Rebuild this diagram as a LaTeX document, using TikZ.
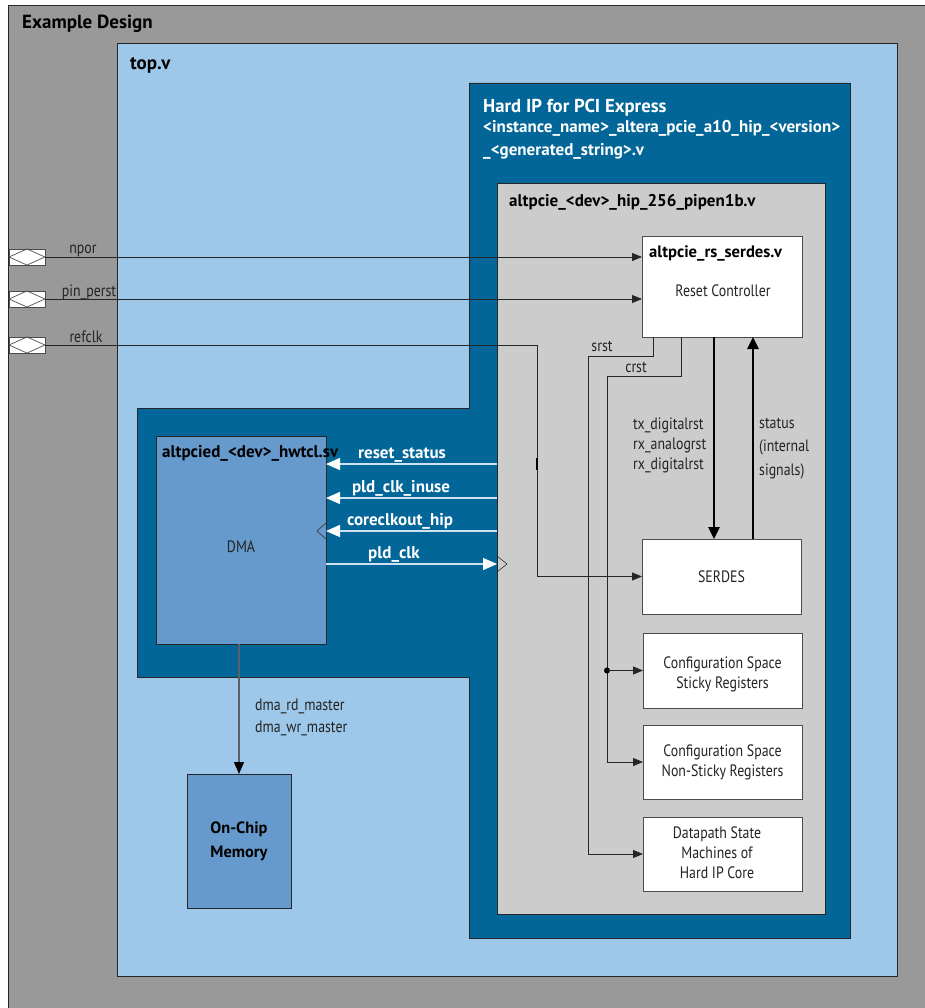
\documentclass[tikz,border=0pt]{standalone}
\usepackage{fontspec}
\setmainfont{PT Sans}
\newfontfamily\bodyfont{PT Sans}[FakeStretch=0.84]
\usepackage{tikz}
\usetikzlibrary{arrows.meta, positioning, calc}
\definecolor{designgray}{RGB}{153,153,153}
\definecolor{toplightblue}{RGB}{158,200,233}
\definecolor{hipblue}{RGB}{3,102,153}
\definecolor{coregray}{RGB}{204,204,204}
\definecolor{dmablue}{RGB}{102,153,204}
\definecolor{wiregray}{RGB}{90,96,104}
\definecolor{sigwhite}{RGB}{205,225,240}
\definecolor{textdark}{RGB}{35,35,35}

\begin{document}
\begin{tikzpicture}[
    x=1pt, y=-1pt,
    region/.style={rectangle, draw=black!85, line width=0.8pt, anchor=north west, inner sep=0pt, outer sep=0pt},
    block/.style={rectangle, draw=black!70, line width=0.9pt, fill=white, anchor=north west, inner sep=0pt, outer sep=0pt},
    portbox/.style={rectangle, draw=black!70, line width=0.7pt, fill=white, anchor=north west, minimum width=36pt, minimum height=16pt, inner sep=0pt, outer sep=0pt},
    heading/.style={anchor=base west, inner sep=0pt, font=\fontsize{19}{22}\selectfont\bfseries, text=black},
    subheading/.style={anchor=base west, inner sep=0pt, font=\fontsize{17}{20}\selectfont\bfseries, text=black},
    txt/.style={align=center, inner sep=0pt, font=\bodyfont\fontsize{16.5}{20}\selectfont, text=textdark},
    sigtxt/.style={inner sep=0pt, font=\fontsize{17}{18}\selectfont\bfseries, text=white},
    wire/.style={draw=black!85, line width=0.8pt, -{Triangle[length=10pt,width=8pt]}},
    bus/.style={draw=black, line width=2.6pt, -{Triangle[length=12pt,width=11pt]}},
    sig/.style={draw=sigwhite, line width=1.4pt, -{Triangle[length=14pt,width=12pt,color=white,fill=white]}},
    clkmark/.style={draw=black!80, line width=0.6pt}
]
\useasboundingbox (0,0) rectangle (925,1008);

% Nested design regions
\node[region, fill=designgray, minimum width=925pt, minimum height=1010pt] (exdesign) at (8,5) {};
\node[heading] at (22,29) {Example Design};
\node[region, fill=toplightblue, minimum width=780pt, minimum height=933pt] (topv) at (117,43) {};
\node[heading] at (130,70) {top.v};

% Hard IP with DMA wrapper
\draw[draw=black!85, line width=0.8pt, fill=hipblue] (469,83) -- (850,83) -- (850,938) -- (469,938)
    -- (469,677) -- (137,677) -- (137,408) -- (469,408) -- cycle;
\node[heading, text=white, font=\fontsize{18.7}{20}\selectfont\bfseries] at (483,113) {Hard IP for PCI Express};
\node[subheading, text=white] at (483,133) {<instance\_name>\_altera\_pcie\_a10\_hip\_<version>};
\node[subheading, text=white] at (483,156) {\_<generated\_string>.v};

\node[region, fill=coregray, minimum width=328pt, minimum height=731pt] (hipcore) at (497,183) {};
\node[subheading] at (509,207) {altpcie\_<dev>\_hip\_256\_pipen1b.v};

% Blocks inside the hard IP
\node[block, minimum width=160pt, minimum height=101pt] (rstctrl) at (642,236) {};
\node[subheading, font=\fontsize{16.6}{20}\selectfont\bfseries] at (649,257) {altpcie\_rs\_serdes.v};
\node[txt] at (723,291) {Reset Controller};

\node[block, minimum width=159pt, minimum height=75pt] (serdes) at (642,539) {};
\node[txt] at (serdes.center) {SERDES};

\node[block, minimum width=159pt, minimum height=75pt] (cfgsticky) at (643,633) {};
\node[txt] at ([yshift=-4pt]cfgsticky.center) {Configuration Space\\Sticky Registers};

\node[block, minimum width=159pt, minimum height=74pt] (cfgnonsticky) at (643,725) {};
\node[txt] at (cfgnonsticky.center) {Configuration Space\\Non-Sticky Registers};

\node[block, minimum width=159pt, minimum height=74pt] (datapath) at (643,817) {};
\node[txt] at (717,853) {Datapath State\\Machines of\\Hard IP Core};

% DMA and memory
\node[region, fill=dmablue, minimum width=170pt, minimum height=208pt] (dma) at (156,436) {};
\node[subheading] at (162,457) {altpcied\_<dev>\_hwtcl.sv};
\node[txt] at (241,547) {DMA};

\node[region, fill=dmablue, minimum width=104pt, minimum height=134pt] (onchipmem) at (187,774) {};
\node[txt, font=\fontsize{16.4}{24}\selectfont\bfseries, text=black] at (onchipmem.center) {On-Chip\\Memory};

% Top-level ports
\foreach \y/\nm/\txt/\lx in {249/npor/npor/83, 291/pinperst/pin\_perst/89, 337/refclk/refclk/86} {
  \node[portbox] (\nm port) at (9,\y) {};
  \draw[black!70, line width=0.7pt] (\nm port.west) -- (\nm port.north) -- (\nm port.east) -- (\nm port.south) -- cycle;
  \node[txt, anchor=base] at (\lx,\y+5) {\txt};
}
\draw[wire] (nporport.east) -- (rstctrl.west |- nporport.east);
\draw[wire] (pinperstport.east) -- (rstctrl.west |- pinperstport.east);
\draw[wire] (refclkport.east) -- ++(492,0) |- (serdes.west);
\draw[black, line width=2pt] (537,458) -- (537,470);

% Resets from the controller
\draw[wire] ([xshift=11pt]rstctrl.south west) -- ++(0,19) -| ([xshift=-55pt]datapath.west) -- (datapath.west);
\node[txt, anchor=base] at (602,351) {srst};
\draw[wire] ([xshift=39pt]rstctrl.south west) -- ++(0,39) -| ([xshift=-36pt]cfgnonsticky.west) -- (cfgnonsticky.west);
\node[txt, anchor=base] at (636,372) {crst};
\coordinate (crsttap) at ([xshift=-36pt]cfgsticky.west);
\fill[black] (crsttap) circle (3pt);
\draw[wire] (crsttap) -- (cfgsticky.west);

% Controller <-> SERDES
\draw[bus] ([xshift=-8pt]rstctrl.south) -- ([xshift=-8pt]rstctrl.south |- serdes.north);
\draw[bus] ([xshift=31pt]rstctrl.south |- serdes.north) -- ([xshift=31pt]rstctrl.south);
\node[txt, align=left, anchor=north west] at (633,418) {tx\_digitalrst\\rx\_analogrst\\rx\_digitalrst};
\node[txt, align=left, anchor=north west, font=\bodyfont\fontsize{16.5}{23.5}\selectfont] at (759,418) {status\\(internal\\signals)};

% Signals between DMA and hard IP
\foreach \dy/\nm/\txt/\lx in {28/rststat/reset\_status/402, 62/pldinuse/pld\_clk\_inuse/401, 95/coreclk/coreclkout\_hip/400} {
  \coordinate (\nm) at ([yshift=-\dy pt]dma.north east);
  \draw[sig] (\nm -| hipcore.west) -- (\nm);
  \node[sigtxt, anchor=base] at ([yshift=6pt]\lx,0 |- \nm) {\txt};
}
\coordinate (pldclk) at ([yshift=-128pt]dma.north east);
\coordinate (pldclkin) at (pldclk -| hipcore.west);
\draw[sig] (pldclk) -- (pldclkin);
\node[sigtxt, anchor=base] at ([yshift=6pt]394,0 |- pldclk) {pld\_clk};
\draw[clkmark] ([yshift=8pt]coreclk) -- ++(-9,8) -- ++(9,8);
\draw[clkmark] ([yshift=8pt]pldclkin) -- ++(10,8) -- ++(-10,8);

% DMA masters to on-chip memory
\draw[wiregray, line width=1.2pt, -{Triangle[length=12pt,width=10pt,color=black]}] (dma.south -| onchipmem.north) -- (onchipmem.north);
\node[txt, align=left, anchor=north west, font=\bodyfont\fontsize{16.5}{22}\selectfont] at (255,699) {dma\_rd\_master\\dma\_wr\_master};
\end{tikzpicture}
\end{document}
